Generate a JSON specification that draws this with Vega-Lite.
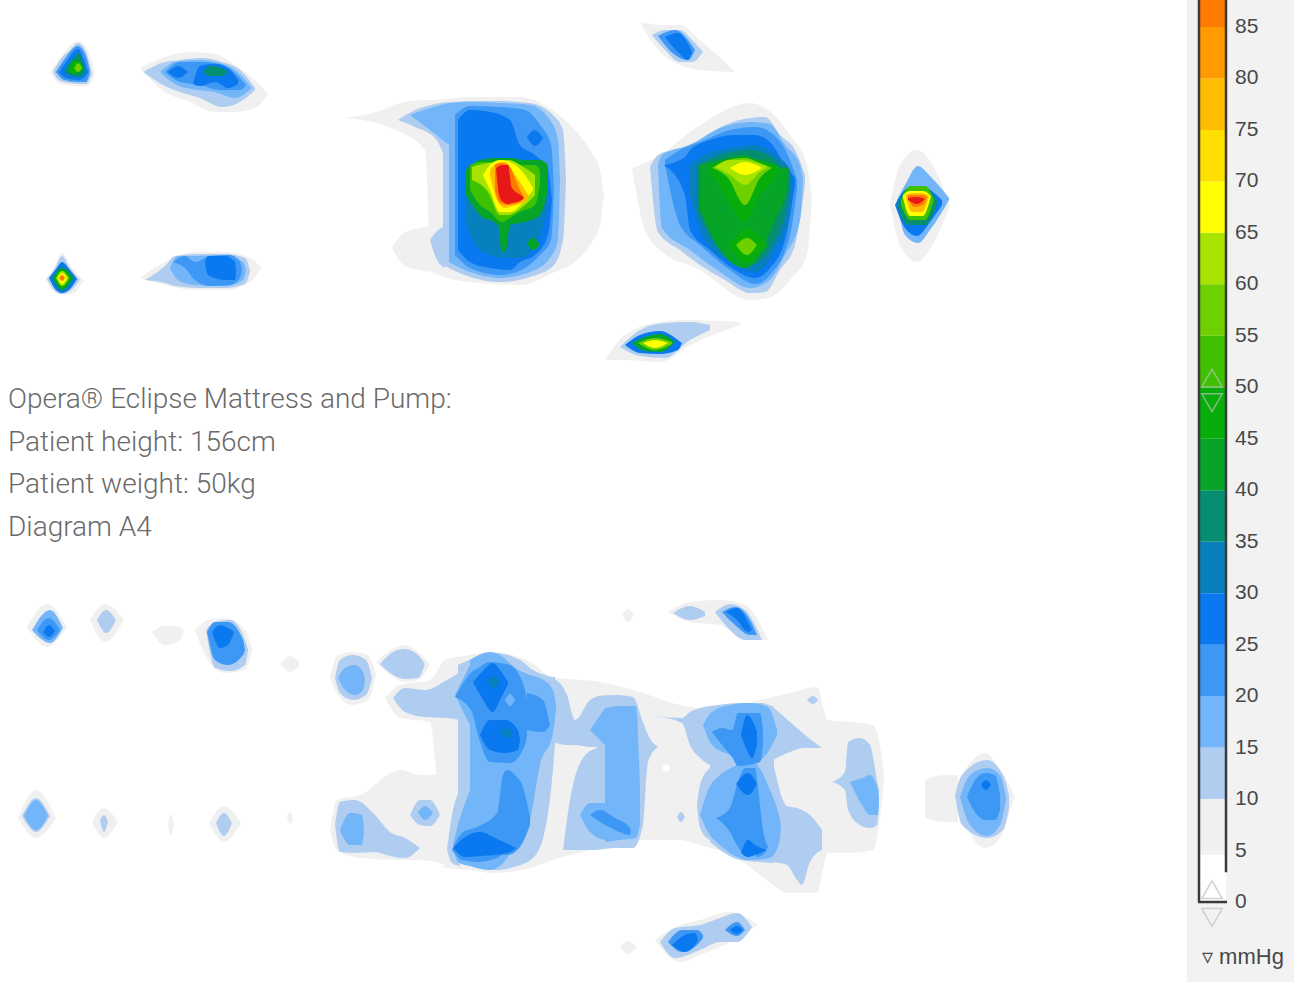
{"$schema":"https://vega.github.io/schema/vega-lite/v6.json","width":1294,"height":982,"autosize":{"type":"fit","contains":"padding"},"padding":0,"background":"#ffffff","config":{"view":{"stroke":null}},"resolve":{"scale":{"y":"independent","x":"independent","color":"independent"}},"layer":[
{"data":{"values":[
{"g":1,"v":5,"x":50,"y":72,"y2":72},{"g":1,"v":5,"x":60,"y":58,"y2":84},{"g":1,"v":5,"x":78,"y":41,"y2":86},{"g":1,"v":5,"x":88,"y":50,"y2":86},{"g":1,"v":5,"x":95,"y":74,"y2":74},
{"g":2,"v":10,"x":53,"y":72,"y2":72},{"g":2,"v":10,"x":60,"y":60,"y2":81},{"g":2,"v":10,"x":70,"y":50,"y2":83},{"g":2,"v":10,"x":78,"y":43,"y2":84},{"g":2,"v":10,"x":86,"y":52,"y2":84},{"g":2,"v":10,"x":92,"y":74,"y2":74},
{"g":3,"v":20,"x":56,"y":72,"y2":72},{"g":3,"v":20,"x":64,"y":60,"y2":80},{"g":3,"v":20,"x":78,"y":46,"y2":82},{"g":3,"v":20,"x":86,"y":56,"y2":82},{"g":3,"v":20,"x":90,"y":72,"y2":72},
{"g":4,"v":25,"x":59,"y":72,"y2":72},{"g":4,"v":25,"x":66,"y":62,"y2":78},{"g":4,"v":25,"x":78,"y":49,"y2":80},{"g":4,"v":25,"x":84,"y":60,"y2":78},{"g":4,"v":25,"x":88,"y":72,"y2":72},
{"g":5,"v":35,"x":64,"y":72,"y2":72},{"g":5,"v":35,"x":72,"y":60,"y2":76},{"g":5,"v":35,"x":79,"y":53,"y2":77},{"g":5,"v":35,"x":84,"y":66,"y2":74},{"g":5,"v":35,"x":86,"y":71,"y2":71},
{"g":6,"v":45,"x":68,"y":70,"y2":70},{"g":6,"v":45,"x":74,"y":60,"y2":74},{"g":6,"v":45,"x":80,"y":62,"y2":72},{"g":6,"v":45,"x":84,"y":68,"y2":68},
{"g":7,"v":55,"x":74,"y":68,"y2":68},{"g":7,"v":55,"x":78,"y":63,"y2":72},{"g":7,"v":55,"x":82,"y":68,"y2":68},
{"g":8,"v":5,"x":140,"y":68,"y2":68},{"g":8,"v":5,"x":165,"y":57,"y2":92},{"g":8,"v":5,"x":190,"y":52,"y2":102},{"g":8,"v":5,"x":215,"y":54,"y2":112},{"g":8,"v":5,"x":235,"y":65,"y2":112},{"g":8,"v":5,"x":255,"y":80,"y2":108},{"g":8,"v":5,"x":268,"y":94,"y2":94},
{"g":9,"v":10,"x":143,"y":72,"y2":72},{"g":9,"v":10,"x":165,"y":62,"y2":86},{"g":9,"v":10,"x":180,"y":60,"y2":92},{"g":9,"v":10,"x":200,"y":58,"y2":98},{"g":9,"v":10,"x":222,"y":62,"y2":107},{"g":9,"v":10,"x":240,"y":70,"y2":102},{"g":9,"v":10,"x":255,"y":88,"y2":90},
{"g":10,"v":15,"x":160,"y":72,"y2":72},{"g":10,"v":15,"x":175,"y":62,"y2":84},{"g":10,"v":15,"x":197,"y":60,"y2":90},{"g":10,"v":15,"x":215,"y":62,"y2":92},{"g":10,"v":15,"x":235,"y":70,"y2":98},{"g":10,"v":15,"x":252,"y":88,"y2":88},
{"g":11,"v":20,"x":165,"y":72,"y2":72},{"g":11,"v":20,"x":180,"y":62,"y2":82},{"g":11,"v":20,"x":200,"y":62,"y2":85},{"g":11,"v":20,"x":220,"y":64,"y2":90},{"g":11,"v":20,"x":240,"y":78,"y2":90},{"g":11,"v":20,"x":246,"y":85,"y2":85},
{"g":12,"v":25,"x":168,"y":72,"y2":72},{"g":12,"v":25,"x":178,"y":66,"y2":78},{"g":12,"v":25,"x":188,"y":72,"y2":72},
{"g":13,"v":25,"x":193,"y":84,"y2":84},{"g":13,"v":25,"x":200,"y":66,"y2":86},{"g":13,"v":25,"x":215,"y":64,"y2":82},{"g":13,"v":25,"x":228,"y":68,"y2":88},{"g":13,"v":25,"x":238,"y":80,"y2":84},
{"g":14,"v":35,"x":203,"y":72,"y2":72},{"g":14,"v":35,"x":210,"y":66,"y2":76},{"g":14,"v":35,"x":222,"y":68,"y2":76},{"g":14,"v":35,"x":228,"y":72,"y2":72},
{"g":15,"v":5,"x":45,"y":280,"y2":280},{"g":15,"v":5,"x":55,"y":266,"y2":292},{"g":15,"v":5,"x":62,"y":253,"y2":295},{"g":15,"v":5,"x":72,"y":268,"y2":294},{"g":15,"v":5,"x":84,"y":280,"y2":280},
{"g":16,"v":10,"x":47,"y":279,"y2":279},{"g":16,"v":10,"x":55,"y":268,"y2":291},{"g":16,"v":10,"x":62,"y":256,"y2":294},{"g":16,"v":10,"x":70,"y":268,"y2":291},{"g":16,"v":10,"x":80,"y":280,"y2":280},
{"g":17,"v":25,"x":49,"y":278,"y2":278},{"g":17,"v":25,"x":56,"y":269,"y2":290},{"g":17,"v":25,"x":62,"y":262,"y2":293},{"g":17,"v":25,"x":70,"y":270,"y2":289},{"g":17,"v":25,"x":77,"y":279,"y2":279},
{"g":18,"v":35,"x":52,"y":278,"y2":278},{"g":18,"v":35,"x":62,"y":267,"y2":291},{"g":18,"v":35,"x":74,"y":278,"y2":278},
{"g":19,"v":45,"x":54,"y":278,"y2":278},{"g":19,"v":45,"x":62,"y":269,"y2":289},{"g":19,"v":45,"x":72,"y":278,"y2":278},
{"g":20,"v":60,"x":56,"y":278,"y2":278},{"g":20,"v":60,"x":62,"y":271,"y2":286},{"g":20,"v":60,"x":69,"y":278,"y2":278},
{"g":21,"v":65,"x":58,"y":278,"y2":278},{"g":21,"v":65,"x":62,"y":273,"y2":284},{"g":21,"v":65,"x":67,"y":278,"y2":278},
{"g":22,"v":85,"x":59,"y":278,"y2":278},{"g":22,"v":85,"x":62,"y":275,"y2":281},{"g":22,"v":85,"x":65,"y":278,"y2":278},
{"g":23,"v":5,"x":140,"y":278,"y2":278},{"g":23,"v":5,"x":165,"y":262,"y2":285},{"g":23,"v":5,"x":195,"y":252,"y2":290},{"g":23,"v":5,"x":225,"y":252,"y2":290},{"g":23,"v":5,"x":250,"y":258,"y2":282},{"g":23,"v":5,"x":262,"y":268,"y2":268},
{"g":24,"v":10,"x":145,"y":280,"y2":280},{"g":24,"v":10,"x":165,"y":266,"y2":283},{"g":24,"v":10,"x":175,"y":256,"y2":286},{"g":24,"v":10,"x":200,"y":254,"y2":288},{"g":24,"v":10,"x":225,"y":254,"y2":288},{"g":24,"v":10,"x":245,"y":258,"y2":284},{"g":24,"v":10,"x":250,"y":270,"y2":272},
{"g":25,"v":15,"x":170,"y":268,"y2":268},{"g":25,"v":15,"x":178,"y":256,"y2":280},{"g":25,"v":15,"x":195,"y":256,"y2":285},{"g":25,"v":15,"x":225,"y":255,"y2":286},{"g":25,"v":15,"x":243,"y":262,"y2":280},{"g":25,"v":15,"x":246,"y":270,"y2":270},
{"g":26,"v":20,"x":173,"y":262,"y2":262},{"g":26,"v":20,"x":185,"y":256,"y2":268},{"g":26,"v":20,"x":195,"y":262,"y2":280},{"g":26,"v":20,"x":210,"y":256,"y2":286},{"g":26,"v":20,"x":230,"y":255,"y2":285},{"g":26,"v":20,"x":240,"y":262,"y2":278},{"g":26,"v":20,"x":242,"y":270,"y2":270},
{"g":27,"v":25,"x":205,"y":262,"y2":262},{"g":27,"v":25,"x":208,"y":256,"y2":275},{"g":27,"v":25,"x":225,"y":256,"y2":280},{"g":27,"v":25,"x":235,"y":262,"y2":280},{"g":27,"v":25,"x":236,"y":272,"y2":272},
{"g":28,"v":5,"x":345,"y":118,"y2":118},{"g":28,"v":5,"x":380,"y":111,"y2":124},{"g":28,"v":5,"x":400,"y":103,"y2":132},{"g":28,"v":5,"x":425,"y":100,"y2":150},{"g":28,"v":5,"x":432,"y":100,"y2":272},{"g":28,"v":5,"x":470,"y":97,"y2":282},{"g":28,"v":5,"x":520,"y":97,"y2":285},{"g":28,"v":5,"x":555,"y":112,"y2":272},{"g":28,"v":5,"x":575,"y":130,"y2":262},{"g":28,"v":5,"x":590,"y":150,"y2":245},{"g":28,"v":5,"x":600,"y":170,"y2":225},{"g":28,"v":5,"x":604,"y":195,"y2":195},
{"g":29,"v":5,"x":392,"y":248,"y2":248},{"g":29,"v":5,"x":405,"y":232,"y2":266},{"g":29,"v":5,"x":433,"y":226,"y2":272},
{"g":30,"v":10,"x":398,"y":120,"y2":120},{"g":30,"v":10,"x":415,"y":110,"y2":127},{"g":30,"v":10,"x":435,"y":104,"y2":138},{"g":30,"v":10,"x":446,"y":102,"y2":160},
{"g":31,"v":10,"x":430,"y":240,"y2":240},{"g":31,"v":10,"x":436,"y":232,"y2":258},{"g":31,"v":10,"x":445,"y":226,"y2":268},
{"g":32,"v":10,"x":443,"y":103,"y2":265},{"g":32,"v":10,"x":470,"y":101,"y2":277},{"g":32,"v":10,"x":500,"y":101,"y2":282},{"g":32,"v":10,"x":530,"y":103,"y2":277},{"g":32,"v":10,"x":553,"y":115,"y2":266},{"g":32,"v":10,"x":563,"y":130,"y2":240},{"g":32,"v":10,"x":566,"y":180,"y2":180},
{"g":33,"v":15,"x":410,"y":115,"y2":115},{"g":33,"v":15,"x":430,"y":108,"y2":130},{"g":33,"v":15,"x":449,"y":103,"y2":145},
{"g":34,"v":15,"x":449,"y":103,"y2":262},{"g":34,"v":15,"x":470,"y":102,"y2":272},{"g":34,"v":15,"x":500,"y":103,"y2":278},{"g":34,"v":15,"x":530,"y":105,"y2":272},{"g":34,"v":15,"x":550,"y":120,"y2":258},{"g":34,"v":15,"x":558,"y":140,"y2":240},{"g":34,"v":15,"x":560,"y":180,"y2":180},
{"g":35,"v":20,"x":455,"y":115,"y2":255},{"g":35,"v":20,"x":470,"y":106,"y2":268},{"g":35,"v":20,"x":500,"y":107,"y2":275},{"g":35,"v":20,"x":525,"y":110,"y2":268},{"g":35,"v":20,"x":540,"y":125,"y2":255},{"g":35,"v":20,"x":551,"y":145,"y2":240},{"g":35,"v":20,"x":554,"y":190,"y2":190},
{"g":36,"v":25,"x":458,"y":120,"y2":250},{"g":36,"v":25,"x":470,"y":110,"y2":262},{"g":36,"v":25,"x":490,"y":112,"y2":268},{"g":36,"v":25,"x":510,"y":120,"y2":270},{"g":36,"v":25,"x":520,"y":145,"y2":262},{"g":36,"v":25,"x":535,"y":155,"y2":255},{"g":36,"v":25,"x":548,"y":170,"y2":235},{"g":36,"v":25,"x":552,"y":200,"y2":200},
{"g":37,"v":25,"x":527,"y":137,"y2":137},{"g":37,"v":25,"x":535,"y":130,"y2":146},{"g":37,"v":25,"x":543,"y":138,"y2":138},
{"g":38,"v":30,"x":465,"y":180,"y2":220},{"g":38,"v":30,"x":475,"y":165,"y2":245},{"g":38,"v":30,"x":490,"y":160,"y2":255},{"g":38,"v":30,"x":505,"y":158,"y2":258},{"g":38,"v":30,"x":520,"y":160,"y2":258},{"g":38,"v":30,"x":540,"y":165,"y2":235},{"g":38,"v":30,"x":548,"y":190,"y2":205},
{"g":39,"v":40,"x":466,"y":170,"y2":195},{"g":39,"v":40,"x":480,"y":160,"y2":215},{"g":39,"v":40,"x":498,"y":158,"y2":225},{"g":39,"v":40,"x":502,"y":158,"y2":252},{"g":39,"v":40,"x":506,"y":158,"y2":250},{"g":39,"v":40,"x":510,"y":158,"y2":225},{"g":39,"v":40,"x":525,"y":160,"y2":222},{"g":39,"v":40,"x":540,"y":160,"y2":215},{"g":39,"v":40,"x":548,"y":165,"y2":190},
{"g":40,"v":40,"x":527,"y":243,"y2":243},{"g":40,"v":40,"x":533,"y":238,"y2":250},{"g":40,"v":40,"x":540,"y":245,"y2":245},
{"g":41,"v":50,"x":470,"y":165,"y2":190},{"g":41,"v":50,"x":480,"y":162,"y2":205},{"g":41,"v":50,"x":490,"y":162,"y2":212},{"g":41,"v":50,"x":502,"y":160,"y2":222},{"g":41,"v":50,"x":510,"y":160,"y2":218},{"g":41,"v":50,"x":520,"y":165,"y2":212},{"g":41,"v":50,"x":535,"y":165,"y2":205},{"g":41,"v":50,"x":540,"y":170,"y2":185},
{"g":42,"v":60,"x":472,"y":167,"y2":180},{"g":42,"v":60,"x":488,"y":163,"y2":192},{"g":42,"v":60,"x":500,"y":162,"y2":215},{"g":42,"v":60,"x":508,"y":160,"y2":215},{"g":42,"v":60,"x":525,"y":168,"y2":205},{"g":42,"v":60,"x":535,"y":175,"y2":195},
{"g":43,"v":65,"x":483,"y":175,"y2":175},{"g":43,"v":65,"x":490,"y":165,"y2":190},{"g":43,"v":65,"x":500,"y":160,"y2":212},{"g":43,"v":65,"x":510,"y":162,"y2":212},{"g":43,"v":65,"x":525,"y":175,"y2":200},{"g":43,"v":65,"x":533,"y":188,"y2":190},
{"g":44,"v":75,"x":490,"y":170,"y2":175},{"g":44,"v":75,"x":497,"y":163,"y2":200},{"g":44,"v":75,"x":505,"y":162,"y2":208},{"g":44,"v":75,"x":515,"y":175,"y2":205},{"g":44,"v":75,"x":525,"y":190,"y2":202},{"g":44,"v":75,"x":529,"y":196,"y2":196},
{"g":45,"v":85,"x":495,"y":165,"y2":190},{"g":45,"v":85,"x":500,"y":163,"y2":203},{"g":45,"v":85,"x":508,"y":165,"y2":205},{"g":45,"v":85,"x":520,"y":190,"y2":202},{"g":45,"v":85,"x":524,"y":197,"y2":197},
{"g":46,"v":90,"x":496,"y":168,"y2":168},{"g":46,"v":90,"x":499,"y":166,"y2":195},{"g":46,"v":90,"x":503,"y":165,"y2":202},{"g":46,"v":90,"x":508,"y":165,"y2":204},{"g":46,"v":90,"x":512,"y":188,"y2":203},{"g":46,"v":90,"x":522,"y":196,"y2":200},{"g":46,"v":90,"x":524,"y":198,"y2":198},
{"g":47,"v":5,"x":632,"y":168,"y2":168},{"g":47,"v":5,"x":645,"y":163,"y2":230},{"g":47,"v":5,"x":660,"y":155,"y2":250},{"g":47,"v":5,"x":700,"y":125,"y2":270},{"g":47,"v":5,"x":750,"y":103,"y2":300},{"g":47,"v":5,"x":768,"y":110,"y2":298},{"g":47,"v":5,"x":790,"y":135,"y2":280},{"g":47,"v":5,"x":807,"y":165,"y2":255},{"g":47,"v":5,"x":812,"y":200,"y2":200},
{"g":48,"v":10,"x":650,"y":167,"y2":167},{"g":48,"v":10,"x":658,"y":155,"y2":232},{"g":48,"v":10,"x":680,"y":148,"y2":250},{"g":48,"v":10,"x":700,"y":140,"y2":265},{"g":48,"v":10,"x":725,"y":125,"y2":280},{"g":48,"v":10,"x":750,"y":118,"y2":293},{"g":48,"v":10,"x":765,"y":117,"y2":292},{"g":48,"v":10,"x":780,"y":135,"y2":270},{"g":48,"v":10,"x":795,"y":150,"y2":245},{"g":48,"v":10,"x":805,"y":175,"y2":185},
{"g":49,"v":15,"x":658,"y":165,"y2":165},{"g":49,"v":15,"x":662,"y":155,"y2":228},{"g":49,"v":15,"x":690,"y":145,"y2":250},{"g":49,"v":15,"x":720,"y":128,"y2":272},{"g":49,"v":15,"x":750,"y":122,"y2":288},{"g":49,"v":15,"x":770,"y":124,"y2":280},{"g":49,"v":15,"x":785,"y":145,"y2":255},{"g":49,"v":15,"x":800,"y":165,"y2":220},{"g":49,"v":15,"x":803,"y":180,"y2":180},
{"g":50,"v":20,"x":665,"y":160,"y2":165},{"g":50,"v":20,"x":680,"y":150,"y2":225},{"g":50,"v":20,"x":700,"y":142,"y2":245},{"g":50,"v":20,"x":730,"y":130,"y2":270},{"g":50,"v":20,"x":755,"y":127,"y2":284},{"g":50,"v":20,"x":770,"y":132,"y2":275},{"g":50,"v":20,"x":790,"y":160,"y2":235},{"g":50,"v":20,"x":797,"y":180,"y2":190},
{"g":51,"v":25,"x":664,"y":165,"y2":165},{"g":51,"v":25,"x":685,"y":157,"y2":195},{"g":51,"v":25,"x":690,"y":150,"y2":230},{"g":51,"v":25,"x":710,"y":140,"y2":250},{"g":51,"v":25,"x":735,"y":135,"y2":270},{"g":51,"v":25,"x":755,"y":135,"y2":278},{"g":51,"v":25,"x":770,"y":142,"y2":268},{"g":51,"v":25,"x":785,"y":165,"y2":240},{"g":51,"v":25,"x":795,"y":178,"y2":185},
{"g":52,"v":30,"x":690,"y":165,"y2":195},{"g":52,"v":30,"x":705,"y":155,"y2":240},{"g":52,"v":30,"x":730,"y":148,"y2":262},{"g":52,"v":30,"x":755,"y":145,"y2":272},{"g":52,"v":30,"x":775,"y":155,"y2":250},{"g":52,"v":30,"x":790,"y":170,"y2":215},{"g":52,"v":30,"x":793,"y":180,"y2":180},
{"g":53,"v":35,"x":697,"y":165,"y2":210},{"g":53,"v":35,"x":720,"y":155,"y2":250},{"g":53,"v":35,"x":750,"y":150,"y2":265},{"g":53,"v":35,"x":775,"y":160,"y2":240},{"g":53,"v":35,"x":788,"y":175,"y2":200},{"g":53,"v":35,"x":790,"y":180,"y2":180},
{"g":54,"v":40,"x":700,"y":165,"y2":210},{"g":54,"v":40,"x":720,"y":160,"y2":250},{"g":54,"v":40,"x":745,"y":155,"y2":268},{"g":54,"v":40,"x":760,"y":165,"y2":255},{"g":54,"v":40,"x":775,"y":170,"y2":220},{"g":54,"v":40,"x":787,"y":167,"y2":190},{"g":54,"v":40,"x":789,"y":170,"y2":170},
{"g":55,"v":45,"x":708,"y":168,"y2":168},{"g":55,"v":45,"x":725,"y":160,"y2":195},{"g":55,"v":45,"x":745,"y":158,"y2":222},{"g":55,"v":45,"x":760,"y":160,"y2":195},{"g":55,"v":45,"x":775,"y":165,"y2":178},{"g":55,"v":45,"x":780,"y":168,"y2":168},
{"g":56,"v":45,"x":728,"y":245,"y2":245},{"g":56,"v":45,"x":740,"y":233,"y2":260},{"g":56,"v":45,"x":748,"y":228,"y2":263},{"g":56,"v":45,"x":758,"y":236,"y2":255},{"g":56,"v":45,"x":768,"y":245,"y2":245},
{"g":57,"v":55,"x":712,"y":168,"y2":168},{"g":57,"v":55,"x":728,"y":160,"y2":178},{"g":57,"v":55,"x":745,"y":158,"y2":205},{"g":57,"v":55,"x":760,"y":163,"y2":178},{"g":57,"v":55,"x":772,"y":168,"y2":168},
{"g":58,"v":55,"x":736,"y":245,"y2":245},{"g":58,"v":55,"x":747,"y":238,"y2":255},{"g":58,"v":55,"x":757,"y":245,"y2":245},
{"g":59,"v":60,"x":715,"y":167,"y2":167},{"g":59,"v":60,"x":730,"y":160,"y2":175},{"g":59,"v":60,"x":745,"y":160,"y2":185},{"g":59,"v":60,"x":760,"y":164,"y2":172},{"g":59,"v":60,"x":768,"y":167,"y2":167},
{"g":60,"v":65,"x":730,"y":168,"y2":168},{"g":60,"v":65,"x":745,"y":162,"y2":175},{"g":60,"v":65,"x":762,"y":168,"y2":168},
{"g":61,"v":5,"x":890,"y":205,"y2":205},{"g":61,"v":5,"x":900,"y":165,"y2":245},{"g":61,"v":5,"x":917,"y":150,"y2":262},{"g":61,"v":5,"x":935,"y":170,"y2":240},{"g":61,"v":5,"x":950,"y":205,"y2":205},
{"g":62,"v":15,"x":897,"y":200,"y2":200},{"g":62,"v":15,"x":905,"y":185,"y2":235},{"g":62,"v":15,"x":918,"y":166,"y2":243},{"g":62,"v":15,"x":930,"y":176,"y2":230},{"g":62,"v":15,"x":949,"y":198,"y2":200},
{"g":63,"v":25,"x":895,"y":205,"y2":205},{"g":63,"v":25,"x":905,"y":190,"y2":228},{"g":63,"v":25,"x":917,"y":186,"y2":236},{"g":63,"v":25,"x":930,"y":190,"y2":222},{"g":63,"v":25,"x":942,"y":200,"y2":205},
{"g":64,"v":35,"x":897,"y":205,"y2":205},{"g":64,"v":35,"x":908,"y":188,"y2":225},{"g":64,"v":35,"x":925,"y":187,"y2":225},{"g":64,"v":35,"x":938,"y":202,"y2":202},
{"g":65,"v":50,"x":901,"y":200,"y2":205},{"g":65,"v":50,"x":910,"y":186,"y2":220},{"g":65,"v":50,"x":925,"y":186,"y2":220},{"g":65,"v":50,"x":934,"y":200,"y2":200},
{"g":66,"v":65,"x":903,"y":195,"y2":198},{"g":66,"v":65,"x":910,"y":191,"y2":216},{"g":66,"v":65,"x":923,"y":191,"y2":216},{"g":66,"v":65,"x":931,"y":196,"y2":196},
{"g":67,"v":75,"x":906,"y":195,"y2":198},{"g":67,"v":75,"x":912,"y":193,"y2":212},{"g":67,"v":75,"x":922,"y":193,"y2":212},{"g":67,"v":75,"x":929,"y":196,"y2":196},
{"g":68,"v":85,"x":908,"y":195,"y2":198},{"g":68,"v":85,"x":914,"y":195,"y2":207},{"g":68,"v":85,"x":923,"y":195,"y2":205},{"g":68,"v":85,"x":927,"y":197,"y2":197},
{"g":69,"v":90,"x":908,"y":198,"y2":200},{"g":69,"v":90,"x":917,"y":197,"y2":204},{"g":69,"v":90,"x":925,"y":199,"y2":199},
{"g":70,"v":5,"x":640,"y":22,"y2":22},{"g":70,"v":5,"x":660,"y":25,"y2":52},{"g":70,"v":5,"x":680,"y":25,"y2":65},{"g":70,"v":5,"x":700,"y":40,"y2":70},{"g":70,"v":5,"x":735,"y":72,"y2":72},
{"g":71,"v":10,"x":652,"y":35,"y2":35},{"g":71,"v":10,"x":665,"y":30,"y2":50},{"g":71,"v":10,"x":680,"y":30,"y2":62},{"g":71,"v":10,"x":692,"y":40,"y2":62},{"g":71,"v":10,"x":703,"y":52,"y2":52},
{"g":72,"v":20,"x":658,"y":36,"y2":36},{"g":72,"v":20,"x":675,"y":30,"y2":55},{"g":72,"v":20,"x":688,"y":40,"y2":60},{"g":72,"v":20,"x":695,"y":50,"y2":50},
{"g":73,"v":25,"x":665,"y":37,"y2":37},{"g":73,"v":25,"x":678,"y":33,"y2":52},{"g":73,"v":25,"x":688,"y":44,"y2":60},{"g":73,"v":25,"x":692,"y":52,"y2":52},
{"g":74,"v":5,"x":605,"y":360,"y2":360},{"g":74,"v":5,"x":625,"y":335,"y2":360},{"g":74,"v":5,"x":660,"y":322,"y2":362},{"g":74,"v":5,"x":690,"y":320,"y2":345},{"g":74,"v":5,"x":740,"y":322,"y2":325},
{"g":75,"v":10,"x":620,"y":347,"y2":347},{"g":75,"v":10,"x":640,"y":330,"y2":356},{"g":75,"v":10,"x":665,"y":323,"y2":358},{"g":75,"v":10,"x":690,"y":322,"y2":340},{"g":75,"v":10,"x":710,"y":325,"y2":330},
{"g":76,"v":25,"x":625,"y":345,"y2":345},{"g":76,"v":25,"x":640,"y":335,"y2":353},{"g":76,"v":25,"x":660,"y":331,"y2":354},{"g":76,"v":25,"x":678,"y":340,"y2":350},{"g":76,"v":25,"x":682,"y":343,"y2":343},
{"g":77,"v":40,"x":632,"y":343,"y2":343},{"g":77,"v":40,"x":645,"y":337,"y2":351},{"g":77,"v":40,"x":660,"y":334,"y2":352},{"g":77,"v":40,"x":675,"y":342,"y2":342},
{"g":78,"v":55,"x":638,"y":343,"y2":343},{"g":78,"v":55,"x":655,"y":338,"y2":350},{"g":78,"v":55,"x":672,"y":342,"y2":344},
{"g":79,"v":65,"x":643,"y":343,"y2":343},{"g":79,"v":65,"x":655,"y":340,"y2":348},{"g":79,"v":65,"x":668,"y":343,"y2":343},
{"g":80,"v":5,"x":385,"y":698,"y2":698},{"g":80,"v":5,"x":400,"y":685,"y2":718},{"g":80,"v":5,"x":430,"y":680,"y2":722},{"g":80,"v":5,"x":445,"y":660,"y2":868},{"g":80,"v":5,"x":470,"y":655,"y2":870},{"g":80,"v":5,"x":493,"y":652,"y2":873},{"g":80,"v":5,"x":530,"y":662,"y2":868},{"g":80,"v":5,"x":553,"y":677,"y2":860},{"g":80,"v":5,"x":600,"y":682,"y2":848},{"g":80,"v":5,"x":640,"y":692,"y2":840},{"g":80,"v":5,"x":680,"y":705,"y2":840},{"g":80,"v":5,"x":700,"y":708,"y2":845},{"g":80,"v":5,"x":740,"y":705,"y2":860},{"g":80,"v":5,"x":760,"y":700,"y2":875},{"g":80,"v":5,"x":790,"y":693,"y2":893},{"g":80,"v":5,"x":817,"y":687,"y2":893},{"g":80,"v":5,"x":828,"y":720,"y2":853},{"g":80,"v":5,"x":850,"y":722,"y2":853},{"g":80,"v":5,"x":873,"y":725,"y2":850},{"g":80,"v":5,"x":882,"y":760,"y2":800},{"g":80,"v":5,"x":884,"y":780,"y2":780},
{"g":81,"v":5,"x":330,"y":830,"y2":830},{"g":81,"v":5,"x":337,"y":800,"y2":850},{"g":81,"v":5,"x":360,"y":795,"y2":858},{"g":81,"v":5,"x":400,"y":770,"y2":860},{"g":81,"v":5,"x":420,"y":775,"y2":860},{"g":81,"v":5,"x":448,"y":775,"y2":865},
{"g":82,"v":5,"x":330,"y":677,"y2":677},{"g":82,"v":5,"x":338,"y":655,"y2":695},{"g":82,"v":5,"x":352,"y":652,"y2":705},{"g":82,"v":5,"x":368,"y":655,"y2":700},{"g":82,"v":5,"x":376,"y":675,"y2":675},
{"g":83,"v":5,"x":376,"y":662,"y2":662},{"g":83,"v":5,"x":395,"y":648,"y2":678},{"g":83,"v":5,"x":405,"y":645,"y2":682},{"g":83,"v":5,"x":418,"y":652,"y2":680},{"g":83,"v":5,"x":430,"y":664,"y2":664},
{"g":84,"v":10,"x":335,"y":678,"y2":678},{"g":84,"v":10,"x":340,"y":660,"y2":693},{"g":84,"v":10,"x":353,"y":655,"y2":700},{"g":84,"v":10,"x":366,"y":660,"y2":695},{"g":84,"v":10,"x":372,"y":678,"y2":678},
{"g":85,"v":15,"x":338,"y":678,"y2":678},{"g":85,"v":15,"x":345,"y":668,"y2":690},{"g":85,"v":15,"x":355,"y":665,"y2":695},{"g":85,"v":15,"x":363,"y":672,"y2":690},{"g":85,"v":15,"x":365,"y":680,"y2":680},
{"g":86,"v":10,"x":380,"y":664,"y2":664},{"g":86,"v":10,"x":395,"y":651,"y2":676},{"g":86,"v":10,"x":405,"y":649,"y2":679},{"g":86,"v":10,"x":418,"y":655,"y2":678},{"g":86,"v":10,"x":425,"y":664,"y2":664},
{"g":87,"v":10,"x":393,"y":698,"y2":698},{"g":87,"v":10,"x":405,"y":688,"y2":712},{"g":87,"v":10,"x":425,"y":690,"y2":717},{"g":87,"v":10,"x":447,"y":680,"y2":718},{"g":87,"v":10,"x":460,"y":672,"y2":720},
{"g":88,"v":10,"x":447,"y":850,"y2":850},{"g":88,"v":10,"x":452,"y":815,"y2":863},{"g":88,"v":10,"x":460,"y":790,"y2":866},
{"g":89,"v":10,"x":458,"y":665,"y2":862},{"g":89,"v":10,"x":480,"y":656,"y2":868},{"g":89,"v":10,"x":495,"y":653,"y2":870},{"g":89,"v":10,"x":520,"y":660,"y2":865},{"g":89,"v":10,"x":533,"y":670,"y2":858},{"g":89,"v":10,"x":545,"y":675,"y2":830},{"g":89,"v":10,"x":552,"y":677,"y2":780},{"g":89,"v":10,"x":555,"y":677,"y2":745},
{"g":90,"v":10,"x":553,"y":678,"y2":742},{"g":90,"v":10,"x":567,"y":695,"y2":745},{"g":90,"v":10,"x":575,"y":720,"y2":745},{"g":90,"v":10,"x":590,"y":700,"y2":747},{"g":90,"v":10,"x":600,"y":696,"y2":747},
{"g":91,"v":10,"x":563,"y":850,"y2":850},{"g":91,"v":10,"x":570,"y":800,"y2":850},{"g":91,"v":10,"x":583,"y":758,"y2":850},{"g":91,"v":10,"x":597,"y":748,"y2":850},
{"g":92,"v":10,"x":597,"y":696,"y2":850},{"g":92,"v":10,"x":615,"y":695,"y2":848},{"g":92,"v":10,"x":633,"y":697,"y2":848},{"g":92,"v":10,"x":643,"y":722,"y2":825},{"g":92,"v":10,"x":648,"y":735,"y2":762},{"g":92,"v":10,"x":658,"y":747,"y2":747},
{"g":93,"v":15,"x":453,"y":845,"y2":845},{"g":93,"v":15,"x":458,"y":825,"y2":862},{"g":93,"v":15,"x":470,"y":790,"y2":866},
{"g":94,"v":15,"x":455,"y":695,"y2":695},{"g":94,"v":15,"x":470,"y":665,"y2":725},
{"g":95,"v":15,"x":470,"y":660,"y2":866},{"g":95,"v":15,"x":490,"y":652,"y2":870},{"g":95,"v":15,"x":500,"y":655,"y2":866},{"g":95,"v":15,"x":515,"y":668,"y2":846},{"g":95,"v":15,"x":530,"y":675,"y2":820},{"g":95,"v":15,"x":540,"y":678,"y2":765},{"g":95,"v":15,"x":553,"y":690,"y2":733},{"g":95,"v":15,"x":556,"y":705,"y2":710},
{"g":96,"v":15,"x":590,"y":730,"y2":730},{"g":96,"v":15,"x":605,"y":708,"y2":745},
{"g":97,"v":15,"x":580,"y":815,"y2":815},{"g":97,"v":15,"x":590,"y":803,"y2":832},{"g":97,"v":15,"x":605,"y":803,"y2":840},
{"g":98,"v":15,"x":605,"y":708,"y2":842},{"g":98,"v":15,"x":620,"y":706,"y2":840},{"g":98,"v":15,"x":636,"y":706,"y2":838},{"g":98,"v":15,"x":640,"y":790,"y2":825},
{"g":99,"v":20,"x":455,"y":697,"y2":697},{"g":99,"v":20,"x":472,"y":672,"y2":712},{"g":99,"v":20,"x":478,"y":668,"y2":735},{"g":99,"v":20,"x":490,"y":662,"y2":762},{"g":99,"v":20,"x":510,"y":665,"y2":763},{"g":99,"v":20,"x":525,"y":690,"y2":745},{"g":99,"v":20,"x":527,"y":700,"y2":735},
{"g":100,"v":20,"x":527,"y":693,"y2":730},{"g":100,"v":20,"x":543,"y":700,"y2":732},{"g":100,"v":20,"x":550,"y":725,"y2":725},
{"g":101,"v":20,"x":452,"y":850,"y2":850},{"g":101,"v":20,"x":462,"y":833,"y2":860},{"g":101,"v":20,"x":477,"y":827,"y2":862},{"g":101,"v":20,"x":497,"y":813,"y2":858},{"g":101,"v":20,"x":503,"y":775,"y2":855},{"g":101,"v":20,"x":507,"y":770,"y2":855},{"g":101,"v":20,"x":515,"y":775,"y2":852},{"g":101,"v":20,"x":523,"y":787,"y2":842},{"g":101,"v":20,"x":530,"y":817,"y2":825},
{"g":102,"v":15,"x":505,"y":700,"y2":700},{"g":102,"v":15,"x":510,"y":694,"y2":706},{"g":102,"v":15,"x":515,"y":700,"y2":700},
{"g":103,"v":25,"x":473,"y":682,"y2":682},{"g":103,"v":25,"x":482,"y":672,"y2":698},{"g":103,"v":25,"x":493,"y":663,"y2":712},{"g":103,"v":25,"x":500,"y":670,"y2":700},{"g":103,"v":25,"x":508,"y":682,"y2":684},
{"g":104,"v":25,"x":480,"y":735,"y2":735},{"g":104,"v":25,"x":490,"y":720,"y2":750},{"g":104,"v":25,"x":505,"y":720,"y2":753},{"g":104,"v":25,"x":518,"y":730,"y2":750},{"g":104,"v":25,"x":520,"y":740,"y2":740},
{"g":105,"v":25,"x":453,"y":848,"y2":848},{"g":105,"v":25,"x":465,"y":837,"y2":857},{"g":105,"v":25,"x":480,"y":832,"y2":856},{"g":105,"v":25,"x":495,"y":838,"y2":855},{"g":105,"v":25,"x":510,"y":845,"y2":852},{"g":105,"v":25,"x":516,"y":848,"y2":848},
{"g":106,"v":30,"x":487,"y":682,"y2":682},{"g":106,"v":30,"x":493,"y":676,"y2":688},{"g":106,"v":30,"x":500,"y":682,"y2":682},
{"g":107,"v":30,"x":500,"y":733,"y2":733},{"g":107,"v":30,"x":507,"y":728,"y2":738},{"g":107,"v":30,"x":513,"y":733,"y2":733},
{"g":108,"v":20,"x":590,"y":815,"y2":815},{"g":108,"v":20,"x":600,"y":810,"y2":822},{"g":108,"v":20,"x":615,"y":818,"y2":830},{"g":108,"v":20,"x":630,"y":828,"y2":835},{"g":108,"v":20,"x":631,"y":832,"y2":832},
{"g":109,"v":10,"x":335,"y":825,"y2":825},{"g":109,"v":10,"x":340,"y":802,"y2":852},{"g":109,"v":10,"x":355,"y":800,"y2":853},{"g":109,"v":10,"x":375,"y":815,"y2":852},{"g":109,"v":10,"x":390,"y":832,"y2":856},{"g":109,"v":10,"x":405,"y":838,"y2":858},{"g":109,"v":10,"x":420,"y":848,"y2":848},
{"g":110,"v":15,"x":340,"y":830,"y2":830},{"g":110,"v":15,"x":350,"y":813,"y2":845},{"g":110,"v":15,"x":362,"y":815,"y2":845},{"g":110,"v":15,"x":364,"y":830,"y2":830},
{"g":111,"v":10,"x":410,"y":815,"y2":815},{"g":111,"v":10,"x":420,"y":800,"y2":825},{"g":111,"v":10,"x":430,"y":800,"y2":826},{"g":111,"v":10,"x":440,"y":815,"y2":815},
{"g":112,"v":15,"x":418,"y":812,"y2":812},{"g":112,"v":15,"x":425,"y":806,"y2":820},{"g":112,"v":15,"x":433,"y":813,"y2":813},
{"g":113,"v":10,"x":653,"y":716,"y2":716},{"g":113,"v":10,"x":682,"y":718,"y2":723},{"g":113,"v":10,"x":690,"y":712,"y2":745},{"g":113,"v":10,"x":700,"y":708,"y2":758},{"g":113,"v":10,"x":710,"y":706,"y2":765},
{"g":114,"v":10,"x":697,"y":805,"y2":805},{"g":114,"v":10,"x":700,"y":785,"y2":828},{"g":114,"v":10,"x":710,"y":768,"y2":840},
{"g":115,"v":10,"x":710,"y":706,"y2":842},{"g":115,"v":10,"x":740,"y":703,"y2":860},{"g":115,"v":10,"x":760,"y":703,"y2":862},{"g":115,"v":10,"x":774,"y":707,"y2":863},
{"g":116,"v":10,"x":773,"y":707,"y2":760},{"g":116,"v":10,"x":790,"y":722,"y2":752},{"g":116,"v":10,"x":805,"y":735,"y2":748},{"g":116,"v":10,"x":822,"y":748,"y2":748},
{"g":117,"v":10,"x":773,"y":762,"y2":862},{"g":117,"v":10,"x":787,"y":806,"y2":865},{"g":117,"v":10,"x":797,"y":808,"y2":880},{"g":117,"v":10,"x":802,"y":810,"y2":885},{"g":117,"v":10,"x":810,"y":815,"y2":862},{"g":117,"v":10,"x":822,"y":830,"y2":850},
{"g":118,"v":15,"x":703,"y":725,"y2":725},{"g":118,"v":15,"x":712,"y":712,"y2":745},{"g":118,"v":15,"x":730,"y":705,"y2":755},{"g":118,"v":15,"x":750,"y":703,"y2":765},{"g":118,"v":15,"x":768,"y":707,"y2":752},{"g":118,"v":15,"x":777,"y":730,"y2":735},
{"g":119,"v":15,"x":700,"y":815,"y2":815},{"g":119,"v":15,"x":708,"y":790,"y2":832},{"g":119,"v":15,"x":720,"y":775,"y2":845},{"g":119,"v":15,"x":735,"y":766,"y2":856},{"g":119,"v":15,"x":750,"y":760,"y2":860},{"g":119,"v":15,"x":770,"y":790,"y2":858},{"g":119,"v":15,"x":780,"y":820,"y2":840},{"g":119,"v":15,"x":781,"y":825,"y2":825},
{"g":120,"v":20,"x":712,"y":732,"y2":732},{"g":120,"v":20,"x":722,"y":728,"y2":745},{"g":120,"v":20,"x":732,"y":730,"y2":757},{"g":120,"v":20,"x":738,"y":713,"y2":766},{"g":120,"v":20,"x":760,"y":713,"y2":762},{"g":120,"v":20,"x":763,"y":730,"y2":745},
{"g":121,"v":20,"x":716,"y":818,"y2":818},{"g":121,"v":20,"x":730,"y":808,"y2":832},{"g":121,"v":20,"x":737,"y":785,"y2":845},{"g":121,"v":20,"x":745,"y":768,"y2":855},{"g":121,"v":20,"x":755,"y":768,"y2":855},{"g":121,"v":20,"x":757,"y":780,"y2":857},{"g":121,"v":20,"x":763,"y":830,"y2":855},{"g":121,"v":20,"x":768,"y":847,"y2":847},
{"g":122,"v":25,"x":741,"y":735,"y2":735},{"g":122,"v":25,"x":747,"y":715,"y2":750},{"g":122,"v":25,"x":752,"y":720,"y2":758},{"g":122,"v":25,"x":757,"y":732,"y2":745},
{"g":123,"v":25,"x":736,"y":784,"y2":784},{"g":123,"v":25,"x":748,"y":773,"y2":795},{"g":123,"v":25,"x":757,"y":784,"y2":784},
{"g":124,"v":25,"x":741,"y":853,"y2":853},{"g":124,"v":25,"x":748,"y":840,"y2":857},{"g":124,"v":25,"x":755,"y":845,"y2":855},{"g":124,"v":25,"x":767,"y":850,"y2":850},
{"g":125,"v":5,"x":925,"y":780,"y2":818},{"g":125,"v":5,"x":945,"y":775,"y2":822},{"g":125,"v":5,"x":958,"y":775,"y2":822},
{"g":126,"v":5,"x":952,"y":795,"y2":795},{"g":126,"v":5,"x":965,"y":770,"y2":825},{"g":126,"v":5,"x":985,"y":753,"y2":848},{"g":126,"v":5,"x":1000,"y":770,"y2":838},{"g":126,"v":5,"x":1012,"y":790,"y2":805},{"g":126,"v":5,"x":1015,"y":797,"y2":797},
{"g":127,"v":10,"x":955,"y":795,"y2":795},{"g":127,"v":10,"x":962,"y":775,"y2":825},{"g":127,"v":10,"x":987,"y":760,"y2":838},{"g":127,"v":10,"x":1003,"y":775,"y2":830},{"g":127,"v":10,"x":1009,"y":795,"y2":808},
{"g":128,"v":15,"x":960,"y":797,"y2":797},{"g":128,"v":15,"x":970,"y":775,"y2":825},{"g":128,"v":15,"x":987,"y":768,"y2":836},{"g":128,"v":15,"x":1000,"y":775,"y2":825},{"g":128,"v":15,"x":1006,"y":798,"y2":800},
{"g":129,"v":20,"x":967,"y":797,"y2":797},{"g":129,"v":20,"x":975,"y":780,"y2":812},{"g":129,"v":20,"x":985,"y":773,"y2":820},{"g":129,"v":20,"x":995,"y":775,"y2":820},{"g":129,"v":20,"x":1000,"y":795,"y2":810},
{"g":130,"v":25,"x":981,"y":785,"y2":785},{"g":130,"v":25,"x":986,"y":780,"y2":790},{"g":130,"v":25,"x":991,"y":785,"y2":785},
{"g":131,"v":10,"x":832,"y":782,"y2":782},{"g":131,"v":10,"x":845,"y":772,"y2":790},{"g":131,"v":10,"x":848,"y":742,"y2":810},{"g":131,"v":10,"x":860,"y":738,"y2":825},{"g":131,"v":10,"x":870,"y":745,"y2":828},{"g":131,"v":10,"x":877,"y":780,"y2":825},{"g":131,"v":10,"x":879,"y":790,"y2":805},
{"g":132,"v":15,"x":850,"y":782,"y2":782},{"g":132,"v":15,"x":862,"y":778,"y2":805},{"g":132,"v":15,"x":870,"y":775,"y2":815},{"g":132,"v":15,"x":878,"y":790,"y2":815},{"g":132,"v":15,"x":879,"y":800,"y2":800},
{"g":133,"v":10,"x":807,"y":700,"y2":700},{"g":133,"v":10,"x":813,"y":696,"y2":704},{"g":133,"v":10,"x":818,"y":700,"y2":700},
{"g":134,"v":10,"x":677,"y":817,"y2":817},{"g":134,"v":10,"x":681,"y":812,"y2":822},{"g":134,"v":10,"x":685,"y":817,"y2":817},
{"g":135,"v":0,"x":662,"y":768,"y2":768},{"g":135,"v":0,"x":666,"y":764,"y2":772},{"g":135,"v":0,"x":670,"y":768,"y2":768},
{"g":136,"v":5,"x":668,"y":612,"y2":612},{"g":136,"v":5,"x":690,"y":602,"y2":622},{"g":136,"v":5,"x":720,"y":600,"y2":625},{"g":136,"v":5,"x":745,"y":605,"y2":640},{"g":136,"v":5,"x":768,"y":640,"y2":640},
{"g":137,"v":10,"x":673,"y":613,"y2":613},{"g":137,"v":10,"x":690,"y":606,"y2":620},{"g":137,"v":10,"x":705,"y":612,"y2":616},
{"g":138,"v":10,"x":715,"y":612,"y2":612},{"g":138,"v":10,"x":730,"y":604,"y2":630},{"g":138,"v":10,"x":745,"y":610,"y2":640},{"g":138,"v":10,"x":762,"y":640,"y2":640},
{"g":139,"v":20,"x":722,"y":612,"y2":612},{"g":139,"v":20,"x":735,"y":607,"y2":625},{"g":139,"v":20,"x":750,"y":620,"y2":635},{"g":139,"v":20,"x":757,"y":635,"y2":635},
{"g":140,"v":25,"x":726,"y":612,"y2":612},{"g":140,"v":25,"x":737,"y":608,"y2":620},{"g":140,"v":25,"x":748,"y":622,"y2":632},{"g":140,"v":25,"x":752,"y":630,"y2":630},
{"g":141,"v":5,"x":622,"y":615,"y2":615},{"g":141,"v":5,"x":628,"y":609,"y2":622},{"g":141,"v":5,"x":634,"y":615,"y2":615},
{"g":142,"v":5,"x":655,"y":940,"y2":940},{"g":142,"v":5,"x":680,"y":925,"y2":962},{"g":142,"v":5,"x":700,"y":920,"y2":955},{"g":142,"v":5,"x":730,"y":912,"y2":942},{"g":142,"v":5,"x":758,"y":925,"y2":925},
{"g":143,"v":10,"x":660,"y":942,"y2":942},{"g":143,"v":10,"x":675,"y":928,"y2":958},{"g":143,"v":10,"x":700,"y":925,"y2":950},{"g":143,"v":10,"x":720,"y":918,"y2":942},{"g":143,"v":10,"x":737,"y":913,"y2":942},{"g":143,"v":10,"x":752,"y":927,"y2":927},
{"g":144,"v":20,"x":668,"y":942,"y2":942},{"g":144,"v":20,"x":682,"y":930,"y2":952},{"g":144,"v":20,"x":697,"y":930,"y2":945},{"g":144,"v":20,"x":703,"y":935,"y2":938},
{"g":145,"v":20,"x":725,"y":930,"y2":930},{"g":145,"v":20,"x":737,"y":922,"y2":936},{"g":145,"v":20,"x":745,"y":930,"y2":930},
{"g":146,"v":25,"x":672,"y":945,"y2":945},{"g":146,"v":25,"x":685,"y":935,"y2":952},{"g":146,"v":25,"x":695,"y":933,"y2":945},{"g":146,"v":25,"x":698,"y":940,"y2":940},
{"g":147,"v":25,"x":730,"y":930,"y2":930},{"g":147,"v":25,"x":737,"y":926,"y2":934},{"g":147,"v":25,"x":743,"y":930,"y2":930},
{"g":148,"v":5,"x":620,"y":947,"y2":947},{"g":148,"v":5,"x":628,"y":941,"y2":954},{"g":148,"v":5,"x":637,"y":947,"y2":947},
{"g":149,"v":5,"x":27,"y":627,"y2":627},{"g":149,"v":5,"x":47,"y":604,"y2":647},{"g":149,"v":5,"x":67,"y":627,"y2":627},
{"g":150,"v":15,"x":32,"y":630,"y2":630},{"g":150,"v":15,"x":50,"y":610,"y2":643},{"g":150,"v":15,"x":63,"y":628,"y2":628},
{"g":151,"v":20,"x":37,"y":630,"y2":630},{"g":151,"v":20,"x":49,"y":618,"y2":640},{"g":151,"v":20,"x":60,"y":630,"y2":630},
{"g":152,"v":25,"x":43,"y":632,"y2":632},{"g":152,"v":25,"x":49,"y":625,"y2":637},{"g":152,"v":25,"x":55,"y":631,"y2":631},
{"g":153,"v":5,"x":90,"y":620,"y2":620},{"g":153,"v":5,"x":105,"y":604,"y2":642},{"g":153,"v":5,"x":124,"y":620,"y2":620},
{"g":154,"v":10,"x":97,"y":620,"y2":620},{"g":154,"v":10,"x":106,"y":610,"y2":633},{"g":154,"v":10,"x":116,"y":620,"y2":620},
{"g":155,"v":5,"x":152,"y":632,"y2":632},{"g":155,"v":5,"x":165,"y":626,"y2":645},{"g":155,"v":5,"x":180,"y":627,"y2":640},{"g":155,"v":5,"x":184,"y":632,"y2":632},
{"g":156,"v":5,"x":195,"y":630,"y2":630},{"g":156,"v":5,"x":208,"y":620,"y2":660},{"g":156,"v":5,"x":225,"y":618,"y2":673},{"g":156,"v":5,"x":245,"y":630,"y2":670},{"g":156,"v":5,"x":252,"y":650,"y2":650},
{"g":157,"v":10,"x":206,"y":630,"y2":630},{"g":157,"v":10,"x":215,"y":622,"y2":668},{"g":157,"v":10,"x":230,"y":620,"y2":671},{"g":157,"v":10,"x":245,"y":640,"y2":665},{"g":157,"v":10,"x":248,"y":650,"y2":650},
{"g":158,"v":20,"x":207,"y":632,"y2":632},{"g":158,"v":20,"x":215,"y":622,"y2":660},{"g":158,"v":20,"x":228,"y":622,"y2":665},{"g":158,"v":20,"x":243,"y":640,"y2":655},{"g":158,"v":20,"x":245,"y":650,"y2":650},
{"g":159,"v":25,"x":212,"y":632,"y2":632},{"g":159,"v":25,"x":220,"y":625,"y2":648},{"g":159,"v":25,"x":228,"y":628,"y2":645},{"g":159,"v":25,"x":234,"y":632,"y2":632},
{"g":160,"v":5,"x":280,"y":664,"y2":664},{"g":160,"v":5,"x":290,"y":656,"y2":672},{"g":160,"v":5,"x":300,"y":664,"y2":664},
{"g":161,"v":5,"x":18,"y":818,"y2":818},{"g":161,"v":5,"x":36,"y":790,"y2":838},{"g":161,"v":5,"x":56,"y":818,"y2":818},
{"g":162,"v":10,"x":22,"y":816,"y2":816},{"g":162,"v":10,"x":36,"y":798,"y2":832},{"g":162,"v":10,"x":50,"y":816,"y2":816},
{"g":163,"v":15,"x":24,"y":816,"y2":816},{"g":163,"v":15,"x":36,"y":800,"y2":830},{"g":163,"v":15,"x":48,"y":816,"y2":816},
{"g":164,"v":5,"x":92,"y":822,"y2":822},{"g":164,"v":5,"x":104,"y":808,"y2":838},{"g":164,"v":5,"x":118,"y":822,"y2":822},
{"g":165,"v":10,"x":100,"y":820,"y2":820},{"g":165,"v":10,"x":104,"y":815,"y2":832},{"g":165,"v":10,"x":108,"y":822,"y2":822},
{"g":166,"v":5,"x":168,"y":825,"y2":825},{"g":166,"v":5,"x":171,"y":814,"y2":835},{"g":166,"v":5,"x":174,"y":825,"y2":825},
{"g":167,"v":5,"x":209,"y":823,"y2":823},{"g":167,"v":5,"x":224,"y":806,"y2":842},{"g":167,"v":5,"x":241,"y":823,"y2":823},
{"g":168,"v":10,"x":216,"y":823,"y2":823},{"g":168,"v":10,"x":224,"y":813,"y2":836},{"g":168,"v":10,"x":232,"y":823,"y2":823},
{"g":169,"v":5,"x":287,"y":818,"y2":818},{"g":169,"v":5,"x":290,"y":812,"y2":824},{"g":169,"v":5,"x":293,"y":818,"y2":818}
]},"mark":{"type":"area","interpolate":"monotone","orient":"vertical","clip":true},"encoding":{
"x":{"field":"x","type":"quantitative","axis":null,"scale":{"domain":[0,1294],"nice":false,"zero":false}},
"y":{"field":"y","type":"quantitative","axis":null,"scale":{"domain":[982,0],"nice":false,"zero":false}},
"y2":{"field":"y2"},
"detail":{"field":"g","type":"nominal"},
"color":{"field":"v","type":"quantitative","legend":null,"scale":{"type":"threshold","domain":[5,10,15,20,25,30,35,40,45,50,55,60,65,70,75,80,85,90],"range":["#ffffff","#f0f0f0","#afcdf0","#72b5f8","#3d97f4","#0a78ee","#0780bd","#068e70","#06a528","#07ad0a","#3fc000","#6fd000","#a8e400","#ffff00","#ffdf00","#ffbc00","#ff9a00","#ff7a00","#e81818"]}}}},
{"data":{"values":[{"panel":"scale"}]},"mark":{"type":"rect","color":"#f2f2f2"},"encoding":{"x":{"datum":1187,"type":"quantitative","axis":null,"scale":{"domain":[0,1294],"nice":false,"zero":false}},"x2":{"datum":1294}}},
{"data":{"values":[{"v":0,"hi":4.6},{"v":5,"hi":10},{"v":10,"hi":15},{"v":15,"hi":20},{"v":20,"hi":25},{"v":25,"hi":30},{"v":30,"hi":35},{"v":35,"hi":40},{"v":40,"hi":45},{"v":45,"hi":50},{"v":50,"hi":55},{"v":55,"hi":60},{"v":60,"hi":65},{"v":65,"hi":70},{"v":70,"hi":75},{"v":75,"hi":80},{"v":80,"hi":85},{"v":85,"hi":90}]},"mark":{"type":"rect","clip":true},"encoding":{"x":{"datum":1200,"type":"quantitative","axis":null,"scale":{"domain":[0,1294],"nice":false,"zero":false}},"x2":{"datum":1226},
"y":{"field":"v","type":"quantitative","axis":null,"scale":{"domain":[-7.77,87.62],"nice":false,"zero":false}},"y2":{"field":"hi"},
"color":{"field":"v","type":"quantitative","legend":null,"scale":{"type":"threshold","domain":[5,10,15,20,25,30,35,40,45,50,55,60,65,70,75,80,85,90],"range":["#ffffff","#f0f0f0","#afcdf0","#72b5f8","#3d97f4","#0a78ee","#0780bd","#068e70","#06a528","#07ad0a","#3fc000","#6fd000","#a8e400","#ffff00","#ffdf00","#ffbc00","#ff9a00","#ff7a00","#e81818"]}}}},
{"data":{"values":[{"a":0,"b":90}]},"mark":{"type":"rule","color":"#3a3a3a","strokeWidth":2.5,"clip":true},"encoding":{"x":{"datum":1199,"type":"quantitative","axis":null,"scale":{"domain":[0,1294],"nice":false,"zero":false}},"y":{"field":"a","type":"quantitative","axis":null,"scale":{"domain":[-7.77,87.62],"nice":false,"zero":false}},"y2":{"field":"b"}}},
{"data":{"values":[{"a":2.9,"b":90}]},"mark":{"type":"rule","color":"#3a3a3a","strokeWidth":2.5,"clip":true},"encoding":{"x":{"datum":1226,"type":"quantitative","axis":null,"scale":{"domain":[0,1294],"nice":false,"zero":false}},"y":{"field":"a","type":"quantitative","axis":null,"scale":{"domain":[-7.77,87.62],"nice":false,"zero":false}},"y2":{"field":"b"}}},
{"data":{"values":[{"mm":0}]},"mark":{"type":"rule","color":"#3a3a3a","strokeWidth":2.5},"encoding":{"x":{"datum":1198,"type":"quantitative","axis":null,"scale":{"domain":[0,1294],"nice":false,"zero":false}},"x2":{"datum":1227},"y":{"field":"mm","type":"quantitative","axis":null,"scale":{"domain":[-7.77,87.62],"nice":false,"zero":false}}}},
{"data":{"values":[{"mm":1.2,"s":"up"},{"mm":-1.5,"s":"down"},{"mm":50.9,"s":"up"},{"mm":48.5,"s":"down"}]},"mark":{"type":"point","filled":false,"stroke":"#b8c4b8","strokeWidth":1.5,"size":420},"encoding":{"x":{"datum":1212,"type":"quantitative","axis":null,"scale":{"domain":[0,1294],"nice":false,"zero":false}},"y":{"field":"mm","type":"quantitative","axis":null,"scale":{"domain":[-7.77,87.62],"nice":false,"zero":false}},"shape":{"field":"s","type":"nominal","legend":null,"scale":{"domain":["up","down"],"range":["triangle-up","triangle-down"]}}}},
{"data":{"values":[{"mm":0},{"mm":5},{"mm":10},{"mm":15},{"mm":20},{"mm":25},{"mm":30},{"mm":35},{"mm":40},{"mm":45},{"mm":50},{"mm":55},{"mm":60},{"mm":65},{"mm":70},{"mm":75},{"mm":80},{"mm":85}]},"mark":{"type":"text","align":"left","baseline":"middle","font":"Liberation Sans","fontSize":21,"color":"#484848"},"encoding":{"x":{"datum":1235,"type":"quantitative","axis":null,"scale":{"domain":[0,1294],"nice":false,"zero":false}},"y":{"field":"mm","type":"quantitative","axis":null,"scale":{"domain":[-7.77,87.62],"nice":false,"zero":false}},"text":{"field":"mm","type":"quantitative"}}},
{"data":{"values":[{"mm":-5.3,"t":"▿ mmHg"}]},"mark":{"type":"text","align":"left","baseline":"middle","font":"Liberation Sans","fontSize":22,"color":"#484848"},"encoding":{"x":{"datum":1202,"type":"quantitative","axis":null,"scale":{"domain":[0,1294],"nice":false,"zero":false}},"y":{"field":"mm","type":"quantitative","axis":null,"scale":{"domain":[-7.77,87.62],"nice":false,"zero":false}},"text":{"field":"t"}}},
{"data":{"values":[{"n":1,"t":"Opera® Eclipse Mattress and Pump:"},{"n":2,"t":"Patient height: 156cm"},{"n":3,"t":"Patient weight: 50kg"},{"n":4,"t":"Diagram A4"}]},"mark":{"type":"text","align":"left","baseline":"middle","font":"Roboto","fontWeight":300,"fontSize":28,"color":"#6a6a6a"},"encoding":{"x":{"datum":8,"type":"quantitative","axis":null,"scale":{"domain":[0,1294],"nice":false,"zero":false}},"y":{"field":"n","type":"quantitative","axis":null,"scale":{"domain":[14.63,-8.37],"nice":false,"zero":false}},"text":{"field":"t"}}}
]}
